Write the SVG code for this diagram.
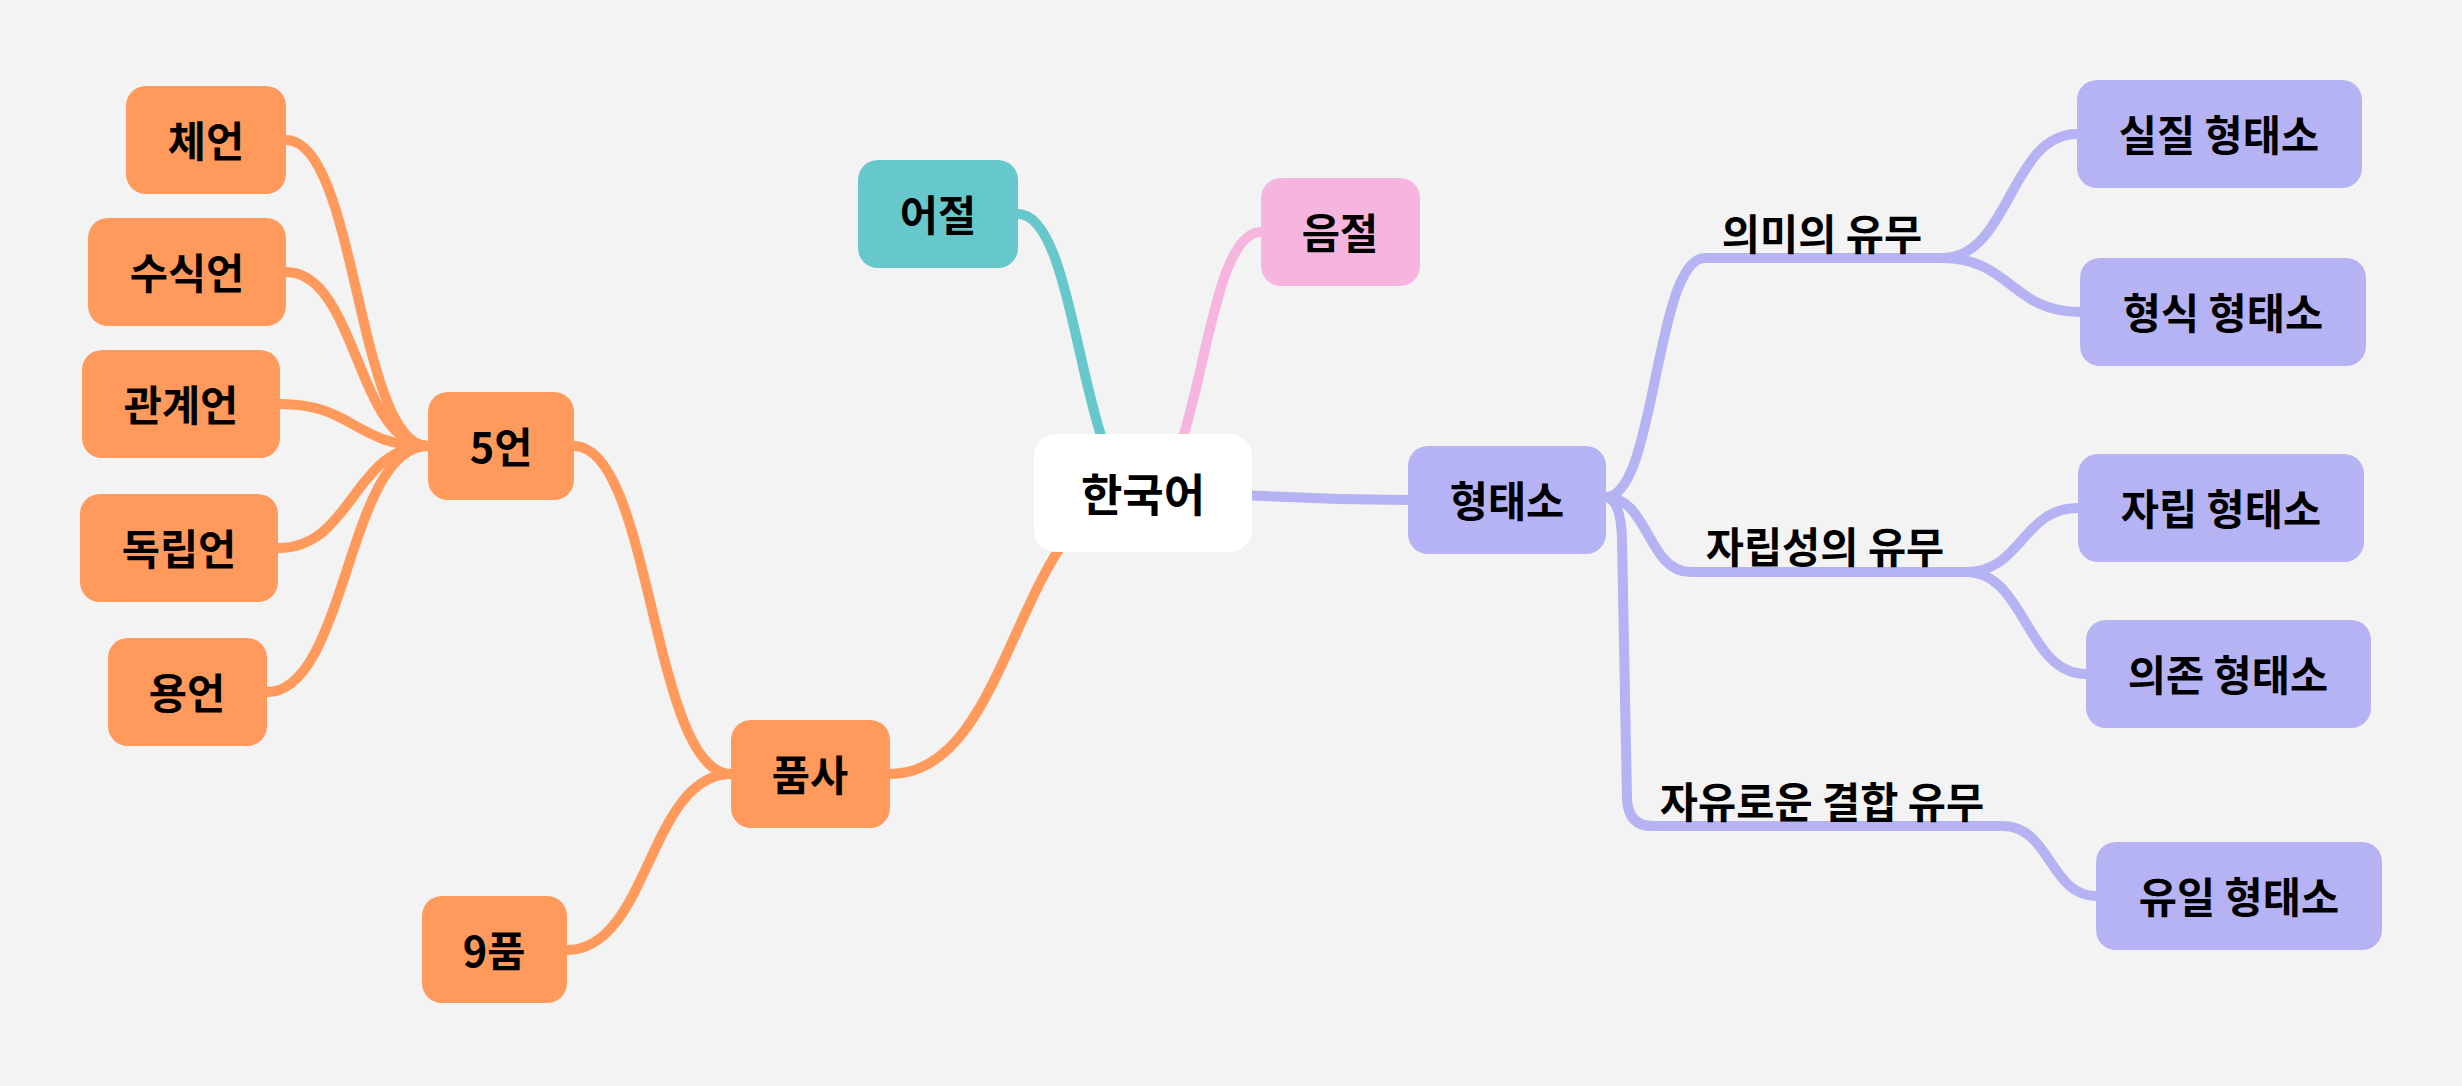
<svg xmlns="http://www.w3.org/2000/svg" width="2462" height="1086" viewBox="0 0 2462 1086">
<style>
.t{font-family:"Noto Sans CJK KR","Noto Sans",sans-serif;font-weight:bold;font-size:41.5px;fill:#000;text-anchor:middle;dominant-baseline:central}
.root{font-size:45px}
.e{fill:none;stroke-width:10;stroke-linecap:round}
.o{stroke:#FF9A5C}.p{stroke:#B5B3F3}.c{stroke:#67C8CC}.k{stroke:#F5B5DF}
.no{fill:#FF9A5C}.np{fill:#B5B3F3}.nc{fill:#67C8CC}.nk{fill:#F5B5DF}.nw{fill:#FFFFFF}
</style>
<rect width="2462" height="1086" fill="#F3F3F3"/>
<g id="connectors">
<path class="e o" d="M286 140 C357 140 357 446 428 446"/>
<path class="e o" d="M286 272 C357 272 357 446 428 446"/>
<path class="e o" d="M280 404 C354 404 354 446 428 446"/>
<path class="e o" d="M278 548 C353 548 353 446 428 446"/>
<path class="e o" d="M267 692 C347 692 347 446 428 446"/>
<path class="e o" d="M574 446 C652 446 652 774 731 774"/>
<path class="e o" d="M567 950 C649 950 649 774 731 774"/>
<path class="e o" d="M890 774 C1016 774 1016 493 1143 493"/>
<path class="e c" d="M1018 214 C1080 214 1080 493 1143 493"/>
<path class="e k" d="M1261 232 C1202 232 1202 493 1143 493"/>
<path class="e p" d="M1143 493 C1275 493 1275 500 1408 500"/>
<path class="e p" d="M1606 497 C1656 497 1655 258 1705 258 H1942"/>
<path class="e p" d="M1942 258 C2010 258 2010 134 2077 134"/>
<path class="e p" d="M1942 258 C2011 258 2011 312 2080 312"/>
<path class="e p" d="M1606 497 C1648 497 1648 572 1690 572 H1966"/>
<path class="e p" d="M1966 572 C2022 572 2022 508 2078 508"/>
<path class="e p" d="M1966 572 C2026 572 2026 674 2086 674"/>
<path class="e p" d="M1606 497 Q1621 500 1622 540 L1627 800 Q1629 826 1652 826 H2003"/>
<path class="e p" d="M2003 826 C2050 826 2050 896 2096 896"/>
<text class="t" x="1822" y="232">의미의 유무</text>
<text class="t" x="1825" y="545">자립성의 유무</text>
<text class="t" x="1822" y="800">자유로운 결합 유무</text>
</g>
<g id="n-root"><rect class="nw" x="1034" y="434" width="218" height="118" rx="22"/><text class="t root" x="1143" y="492">한국어</text></g>
<g id="n-eojeol"><rect class="nc" x="858" y="160" width="160" height="108" rx="20"/><text class="t" x="938" y="213">어절</text></g>
<g id="n-eumjeol"><rect class="nk" x="1261" y="178" width="159" height="108" rx="20"/><text class="t" x="1340" y="231">음절</text></g>
<g id="n-hyeongtaeso"><rect class="np" x="1408" y="446" width="198" height="108" rx="20"/><text class="t" x="1507" y="499">형태소</text></g>
<g id="n-pumsa"><rect class="no" x="731" y="720" width="159" height="108" rx="20"/><text class="t" x="810" y="773">품사</text></g>
<g id="n-5eon"><rect class="no" x="428" y="392" width="146" height="108" rx="20"/><text class="t" x="501" y="445">5언</text></g>
<g id="n-9pum"><rect class="no" x="422" y="896" width="145" height="107" rx="20"/><text class="t" x="494" y="949">9품</text></g>
<g id="n-che"><rect class="no" x="126" y="86" width="160" height="108" rx="20"/><text class="t" x="206" y="139">체언</text></g>
<g id="n-susik"><rect class="no" x="88" y="218" width="198" height="108" rx="20"/><text class="t" x="187" y="271">수식언</text></g>
<g id="n-gwangye"><rect class="no" x="82" y="350" width="198" height="108" rx="20"/><text class="t" x="181" y="403">관계언</text></g>
<g id="n-dongnip"><rect class="no" x="80" y="494" width="198" height="108" rx="20"/><text class="t" x="179" y="547">독립언</text></g>
<g id="n-yong"><rect class="no" x="108" y="638" width="159" height="108" rx="20"/><text class="t" x="187" y="691">용언</text></g>
<g id="n-siljil"><rect class="np" x="2077" y="80" width="285" height="108" rx="20"/><text class="t" x="2219" y="133">실질 형태소</text></g>
<g id="n-hyeongsik"><rect class="np" x="2080" y="258" width="286" height="108" rx="20"/><text class="t" x="2223" y="311">형식 형태소</text></g>
<g id="n-jarip"><rect class="np" x="2078" y="454" width="286" height="108" rx="20"/><text class="t" x="2221" y="507">자립 형태소</text></g>
<g id="n-uijon"><rect class="np" x="2086" y="620" width="285" height="108" rx="20"/><text class="t" x="2228" y="673">의존 형태소</text></g>
<g id="n-yuil"><rect class="np" x="2096" y="842" width="286" height="108" rx="20"/><text class="t" x="2239" y="895">유일 형태소</text></g>
</svg>
